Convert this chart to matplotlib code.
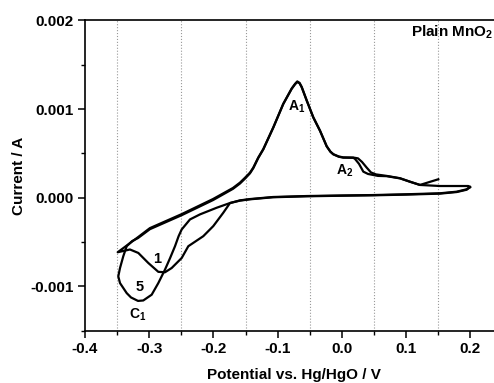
import matplotlib

matplotlib.use("Agg")
import matplotlib.pyplot as plt
from matplotlib.ticker import FormatStrFormatter, MultipleLocator

plt.rcParams["font.family"] = "Liberation Sans"
plt.rcParams["font.weight"] = "bold"
plt.rcParams["mathtext.fontset"] = "custom"
plt.rcParams["mathtext.rm"] = "Liberation Sans"
plt.rcParams["mathtext.bf"] = "Liberation Sans:bold"

# Cycle 1: cathodic sweep from 0.2 V down to -0.35 V, then anodic back to 0.2 V
cycle1_potential = [
    0.1992, 0.194, 0.1786, 0.1525, 0.1007, 0.048, -0.0035, -0.055, -0.1074,
    -0.143, -0.1588, -0.1743, -0.1848, -0.2003, -0.2159, -0.2392, -0.2495,
    -0.2651, -0.2755, -0.2859, -0.3015, -0.317, -0.33, -0.3491,
    -0.3175, -0.299, -0.2495, -0.2008, -0.1697, -0.1588, -0.151, -0.1432,
    -0.138, -0.1303, -0.1225, -0.1069, -0.0914, -0.0783, -0.073, -0.0696,
    -0.066, -0.0627, -0.0549, -0.0447, -0.0342, -0.0238, -0.018, -0.0135,
    -0.005, 0.002, 0.0176, 0.0249, 0.0311, 0.0384, 0.0451, 0.0529, 0.0696,
    0.0903, 0.1058, 0.1214, 0.1525, 0.1966, 0.1992,
]
cycle1_current = [
    0.000121, 0.000095, 0.000068, 0.00005, 0.000039, 0.00003, 0.000025,
    0.000019, 0.000008, -0.000015, -0.00003, -0.00006, -0.00017, -0.00032,
    -0.000434, -0.000547, -0.00068, -0.000793, -0.000841, -0.000836,
    -0.000736, -0.000623, -0.000584, -0.000615,
    -0.000445, -0.000343, -0.000185, -0.000015, 0.00011, 0.00017, 0.000225,
    0.000283, 0.00034, 0.000453, 0.000548, 0.000793, 0.001058, 0.001228,
    0.00128, 0.001305, 0.00129, 0.001246, 0.001095, 0.000906, 0.000755,
    0.00058, 0.00052, 0.000491, 0.000465, 0.000455, 0.000453, 0.000444,
    0.000404, 0.00034, 0.000285, 0.000263, 0.000246, 0.00022, 0.000181,
    0.000144, 0.000132, 0.000132, 0.000121,
]

# Cycle 5: same window, scan stopped at 0.15 V on the way back up
cycle5_potential = [
    0.1992, 0.194, 0.1786, 0.1525, 0.1007, 0.048, -0.0035, -0.055, -0.1074,
    -0.143, -0.1588, -0.1743, -0.195, -0.221, -0.2366, -0.2495, -0.2543,
    -0.2599, -0.2677, -0.2755, -0.2859, -0.2962, -0.3093, -0.3175, -0.3284,
    -0.3351, -0.3455, -0.3482,
    -0.3455, -0.3404, -0.3351, -0.3268, -0.3175, -0.299, -0.2495, -0.2008,
    -0.1697, -0.1588, -0.151, -0.1432, -0.138, -0.1303, -0.1225, -0.1069,
    -0.0914, -0.0783, -0.073, -0.0696, -0.066, -0.0627, -0.0549, -0.0447,
    -0.0342, -0.0238, -0.018, -0.0135, -0.005, 0.002, 0.0176, 0.0202,
    0.0265, 0.0332, 0.0405, 0.056, 0.0696, 0.0903, 0.1058, 0.1214, 0.1499,
]
cycle5_current = [
    0.000118, 0.00009, 0.000064, 0.000046, 0.000035, 0.000027, 0.000022,
    0.000016, 0.000005, -0.000018, -0.000033, -0.00006, -0.000113,
    -0.000188, -0.000245, -0.000358, -0.000434, -0.000547, -0.000683,
    -0.000811, -0.000963, -0.001094, -0.001159, -0.001164, -0.001125,
    -0.001076, -0.000963, -0.000887,
    -0.000793, -0.00066, -0.000547, -0.00049, -0.000455, -0.000355,
    -0.000197, -0.000027, 0.0001, 0.00016, 0.000215, 0.000275, 0.000334,
    0.000449, 0.000545, 0.000792, 0.001058, 0.001232, 0.001285, 0.001312,
    0.001295, 0.00125, 0.001098, 0.000908, 0.000756, 0.00058, 0.000518,
    0.000489, 0.000462, 0.000452, 0.00045, 0.000438, 0.000382, 0.000294,
    0.000268, 0.000246, 0.000243, 0.000218, 0.00018, 0.000144, 0.000208,
]

fig = plt.figure(figsize=(4.94, 3.83), dpi=100)
ax = fig.add_axes([85 / 494, 52.3 / 383, 417.6 / 494, 310.3 / 383])

ax.plot(cycle1_potential, cycle1_current, color="black", lw=1.6,
        solid_joinstyle="round")
ax.plot(cycle5_potential, cycle5_current, color="black", lw=1.6,
        solid_joinstyle="round")

ax.set_xlim(-0.4, 0.25)
ax.set_ylim(-0.0015, 0.002)
ax.xaxis.set_major_locator(MultipleLocator(0.1))
ax.xaxis.set_minor_locator(MultipleLocator(0.05))
ax.yaxis.set_major_locator(MultipleLocator(0.001))
ax.yaxis.set_minor_locator(MultipleLocator(0.0005))
ax.xaxis.set_major_formatter(FormatStrFormatter("%.1f"))
ax.yaxis.set_major_formatter(FormatStrFormatter("%.3f"))
ax.grid(True, which="minor", axis="x", ls=":", color="#999999", lw=0.8)

ax.tick_params(which="major", direction="out", length=5, width=1.1,
               labelsize=11, pad=3)
ax.tick_params(which="minor", direction="out", length=3, width=1.0)
for side in ("left", "bottom", "top"):
    ax.spines[side].set_linewidth(1.2)

ax.set_xlabel("Potential vs. Hg/HgO / V", fontsize=11, fontweight="bold",
              labelpad=9)
ax.set_ylabel("Current / A", fontsize=11, fontweight="bold", labelpad=3)

# peak and cycle annotations
ax.text(0.107, 0.00187, r"Plain MnO$_\mathbf{2}$", fontsize=11,
        fontweight="bold", va="center", ha="left")
ax.text(-0.0703, 0.00102, r"A$_1$", fontsize=10, fontweight="bold",
        ha="center", va="center")
ax.text(0.0047, 0.000302, r"A$_2$", fontsize=10, fontweight="bold",
        ha="center", va="center")
ax.text(-0.3186, -0.00132, r"C$_1$", fontsize=10, fontweight="bold",
        ha="center", va="center")
ax.text(-0.288, -0.000694, "1", fontsize=10.5, fontweight="bold",
        ha="center", va="center")
ax.text(-0.3155, -0.00101, "5", fontsize=10.5, fontweight="bold",
        ha="center", va="center")

fig.savefig("out.png", dpi=100)
